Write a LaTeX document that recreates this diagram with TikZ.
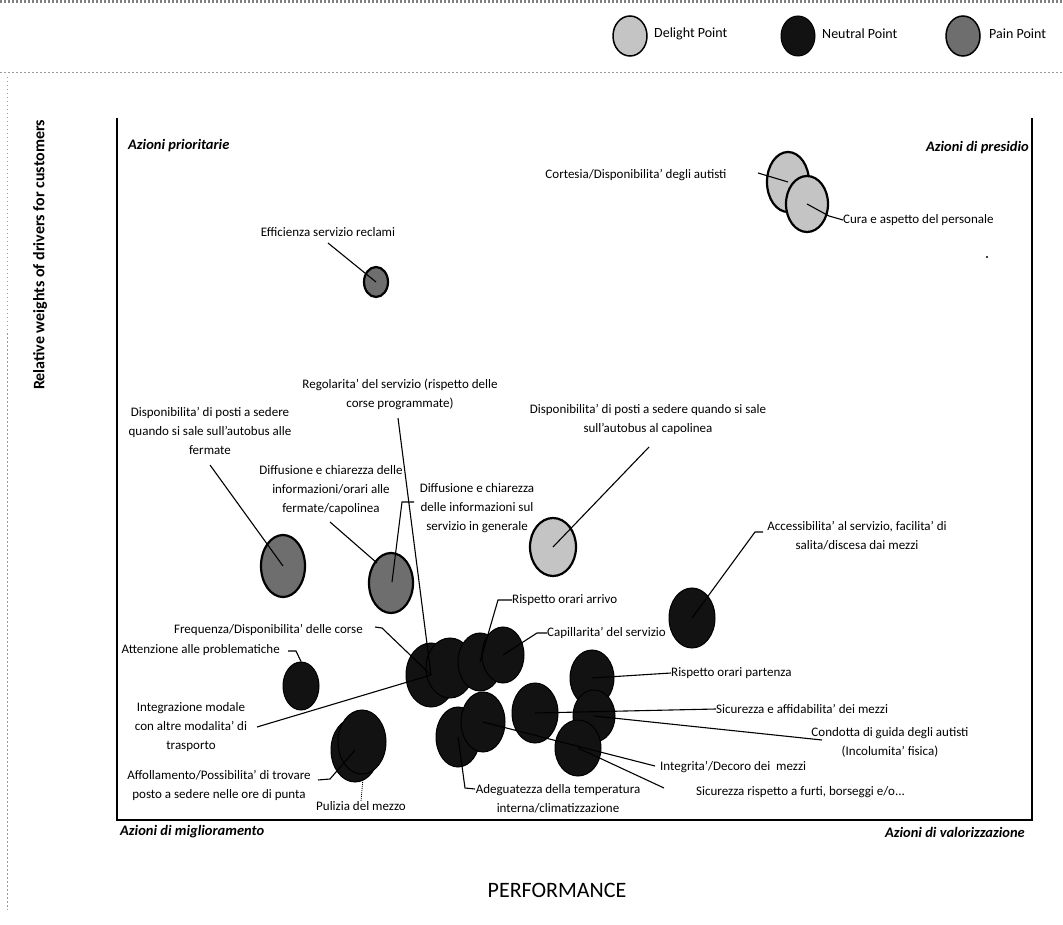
\documentclass[tikz,border=0pt]{standalone}
\usepackage{fontspec}
\setmainfont{Carlito}
\usetikzlibrary{shapes.geometric}
\definecolor{delightc}{HTML}{C4C4C4}
\definecolor{painc}{HTML}{6E6E6E}
\definecolor{neutralc}{HTML}{121212}
\definecolor{scanc}{HTML}{9A9A9A}
\begin{document}
\begin{tikzpicture}[x=1pt,y=-1pt,
  lbl/.style={inner sep=0pt, font=\fontsize{13}{19}\selectfont, align=center},
  quad/.style={inner sep=0pt, font=\fontsize{14.5}{17}\selectfont\bfseries\itshape},
  bub/.style={ellipse, inner sep=0pt, draw=black, line width=2.2pt},
  delight/.style={bub, fill=delightc},
  pain/.style={bub, fill=painc},
  neutral/.style={bub, fill=neutralc, line width=1pt},
  lead/.style={line width=1.1pt, draw=black},
  frame/.style={line width=1.8pt, draw=black},
  scan/.style={draw=scanc, line width=0.8pt, dash pattern=on 1.5pt off 2.5pt},
]
\fill[white] (0,0) rectangle (1063,925);
\useasboundingbox (0,0) rectangle (1063,925);

% scan lines
\draw[scan, line width=3pt, draw=gray] (0,2) -- (1063,2);
\draw[scan] (0,72) -- (1063,72);
\draw[scan] (7,77) -- (7,910);

% legend
\node[delight, line width=1.5pt, minimum width=34pt, minimum height=40pt] (LD) at (630,36) {};
\node[anchor=west, inner sep=0pt, font=\fontsize{14}{16}\selectfont] (LDt) at (654,34) {Delight Point};
\node[neutral, minimum width=34pt, minimum height=40pt] (LN) at (798,36) {};
\node[anchor=west, inner sep=0pt, font=\fontsize{14}{16}\selectfont] (LNt) at (822,34) {Neutral Point};
\node[pain, line width=1.5pt, minimum width=34pt, minimum height=40pt] (LP) at (963,36) {};
\node[anchor=west, inner sep=0pt, font=\fontsize{14}{16}\selectfont] (LPt) at (989,34) {Pain Point};

% frame
\draw[frame] (117,118) -- (117,820) -- (1032,820) -- (1032,118);

% axis titles
\node[rotate=90, inner sep=0pt, font=\fontsize{16}{19}\selectfont\bfseries] (ylab) at (40,255) {Relative weights of drivers for customers};
\node[inner sep=0pt, font=\fontsize{22}{26}\selectfont] (xlab) at (557,890) {PERFORMANCE};

% quadrant labels
\node[quad, anchor=west] (qpr) at (128,146) {Azioni prioritarie};
\node[quad, anchor=east] (qps) at (1029,148) {Azioni di presidio};
\node[quad, anchor=west] (qmi) at (120,832) {Azioni di miglioramento};
\node[quad, anchor=east] (qva) at (1025,832) {Azioni di valorizzazione};

% bubbles
\node[delight, minimum width=42pt, minimum height=60pt] (D1) at (788,182) {};
\node[delight, minimum width=42pt, minimum height=56pt] (D2) at (807,204) {};
\node[delight, minimum width=46pt, minimum height=58pt] (D3) at (553,547) {};
\node[pain, minimum width=24pt, minimum height=30pt] (P0) at (376,282) {};
\node[pain, minimum width=44pt, minimum height=62pt] (P1) at (283,566) {};
\node[pain, minimum width=44pt, minimum height=60pt] (P2) at (391,583) {};
\node[neutral, minimum width=46pt, minimum height=60pt] (Nacc) at (692,618) {};
\node[neutral, minimum width=36pt, minimum height=48pt] (Natt) at (301,686) {};
\node[neutral, minimum width=50pt, minimum height=64pt] (NA) at (431,675) {};
\node[neutral, minimum width=48pt, minimum height=60pt] (NB) at (450,668) {};
\node[neutral, minimum width=44pt, minimum height=58pt] (NC) at (480,662) {};
\node[neutral, minimum width=42pt, minimum height=56pt] (ND) at (503,655) {};
\node[neutral, minimum width=44pt, minimum height=60pt] (NE) at (458,737) {};
\node[neutral, minimum width=44pt, minimum height=60pt] (NF) at (483,722) {};
\node[neutral, minimum width=46pt, minimum height=60pt] (NG) at (535,713) {};
\node[neutral, minimum width=44pt, minimum height=56pt] (NH1) at (592,678) {};
\node[neutral, minimum width=42pt, minimum height=52pt] (NH2) at (594,716) {};
\node[neutral, minimum width=46pt, minimum height=56pt] (NH3) at (578,748) {};
\node[neutral, minimum width=48pt, minimum height=64pt] (NAf) at (355,750) {};
\node[neutral, minimum width=48pt, minimum height=64pt] (NPu) at (362,742) {};

% labels
\node[lbl] (cortesia) at (636,175) {Cortesia/Disponibilita' degli autisti};
\node[lbl, anchor=west] (cura) at (843,220) {Cura e aspetto del personale};
\node[lbl] (effic) at (328,232) {Efficienza servizio reclami};
\node[lbl] (regol) at (400,394.5) {Regolarita' del servizio (rispetto delle\\corse programmate)};
\node[lbl] (dispf) at (210,431) {Disponibilita' di posti a sedere\\quando si sale sull'autobus alle\\fermate};
\node[lbl] (dispc) at (648,419.5) {Disponibilita' di posti a sedere quando si sale\\sull'autobus al capolinea};
\node[lbl] (difff) at (331,490) {Diffusione e chiarezza delle\\informazioni/orari alle\\fermate/capolinea};
\node[lbl] (diffg) at (477,508) {Diffusione e chiarezza\\delle informazioni sul\\servizio in generale};
\node[lbl] (access) at (857,535.5) {Accessibilita' al servizio, facilita' di\\salita/discesa dai mezzi};
\node[lbl, anchor=west] (rarr) at (512,600) {Rispetto orari arrivo};
\node[lbl, anchor=west] (capil) at (547,633) {Capillarita' del servizio};
\node[lbl, anchor=east] (freq) at (363,630) {Frequenza/Disponibilita' delle corse};
\node[lbl, anchor=east] (atten) at (280,650) {Attenzione alle problematiche};
\node[lbl] (integr) at (191,727) {Integrazione modale\\con altre modalita' di\\trasporto};
\node[lbl, anchor=west] (rpart) at (671,673) {Rispetto orari partenza};
\node[lbl, anchor=west] (sicaff) at (716,709) {Sicurezza e affidabilita' dei mezzi};
\node[lbl] (condotta) at (890,742.5) {Condotta di guida degli autisti\\(Incolumita' fisica)};
\node[lbl, anchor=west] (integrita) at (660,767) {Integrita'/Decoro dei\ \ mezzi};
\node[lbl, anchor=west] (sicfurti) at (696,792) {Sicurezza rispetto a furti, borseggi e/o...};
\node[lbl] (afoll) at (219,785.5) {Affollamento/Possibilita' di trovare\\posto a sedere nelle ore di punta};
\node[lbl] (pulizia) at (361,806) {Pulizia del mezzo};
\node[lbl] (adeg) at (558,799) {Adeguatezza della temperatura\\interna/climatizzazione};

% leader coordinates
\coordinate (kCor) at (758,173);
\coordinate (kCura) at (829,216);
\coordinate (kEff) at (328,243);
\coordinate (kReg) at (398,418);
\coordinate (kDf) at (210,465);
\coordinate (kDff) at (330,522);
\coordinate (kDffE) at (377,563);
\coordinate (kDg1) at (414,502);
\coordinate (kDg2) at (402,502);
\coordinate (kDg3) at (392,582);
\coordinate (kDc) at (649,447);
\coordinate (kAc1) at (763,532);
\coordinate (kAc2) at (755,532);
\coordinate (kRa) at (498,600);
\coordinate (kCa) at (537,633);
\coordinate (kFr1) at (375,627);
\coordinate (kFr2) at (382,628);
\coordinate (kAt1) at (288,651);
\coordinate (kAt2) at (296,651);
\coordinate (kIn) at (257,727);
\coordinate (kAf1) at (318,780);
\coordinate (kAf2) at (330,779);
\coordinate (kPu) at (363,778);
\coordinate (kAd1) at (465,788);
\coordinate (kAd2) at (475,789);
\coordinate (kCo) at (822,740);
\coordinate (kIt) at (655,766);
\coordinate (kSf) at (664,788);
\coordinate (kDot) at (987,257);

% leaders
\draw[lead] (kCor) -- (D1.center);
\draw[lead] (D2.center) -- (kCura) -- (cura.west);
\draw[lead] (kEff) -- (P0.center);
\draw[lead] (kReg) -- (NA.center);
\draw[lead] (kDf) -- (P1.center);
\draw[lead] (kDff) -- (kDffE);
\draw[lead] (kDg1) -- (kDg2) -- (kDg3);
\draw[lead] (kDc) -- (D3.center);
\draw[lead] (kAc1) -- (kAc2) -- (Nacc.center);
\draw[lead] (rarr.west) -- (kRa) -- (NC.center);
\draw[lead] (capil.west) -- (kCa) -- (ND.center);
\draw[lead] (kFr1) -- (kFr2) -- (NA.center);
\draw[lead] (kAt1) -- (kAt2) -- (Natt.north);
\draw[lead] (kIn) -- (NA.center);
\draw[lead] (kAf1) -- (kAf2) -- (NAf.center);
\draw[lead, line width=0.8pt, dash pattern=on 1pt off 1pt] (kPu) -- (pulizia.north);
\draw[lead] (NE.center) -- (kAd1) -- (kAd2);
\draw[lead] (NH1.center) -- (rpart.west);
\draw[lead] (NG.center) -- (sicaff.west);
\draw[lead] (NH2.center) -- (kCo);
\draw[lead] (NF.center) -- (kIt);
\draw[lead] (NH3.center) -- (kSf);
\fill (kDot) circle (1.2);
\end{tikzpicture}
\end{document}
